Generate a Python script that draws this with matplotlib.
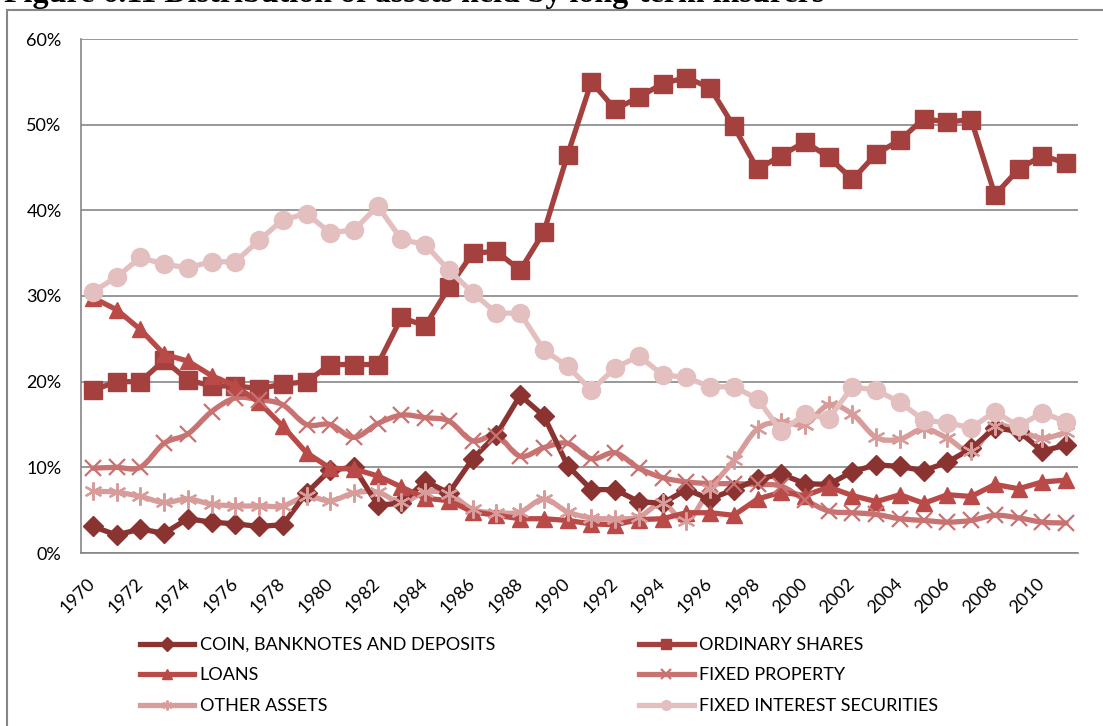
import matplotlib
matplotlib.use("Agg")
import matplotlib.pyplot as plt
from matplotlib.path import Path
from matplotlib.patches import PathPatch, Rectangle
from matplotlib.lines import Line2D
import numpy as np

plt.rcParams['font.family'] = ['Lato', 'DejaVu Sans']

years = list(range(1970, 2012))

coin = [3.1, 2.1, 2.8, 2.3, 4.0, 3.6, 3.4, 3.1, 3.3, 7.0, 9.7, 10.0, 5.6, 5.8,
        8.4, 7.0, 11.0, 13.8, 18.4, 16.0, 10.2, 7.4, 7.4, 6.0, 5.8, 7.4,
        6.3, 7.4, 8.6, 9.2, 8.1, 8.0, 9.5, 10.3, 10.1, 9.6, 10.6, 12.2,
        14.6, 14.2, 11.9, 12.6]
shares = [19.0, 20.0, 20.0, 22.5, 20.2, 19.5, 19.5, 19.2, 19.7, 20.0, 22.0,
          22.0, 22.0, 27.5, 26.5, 31.0, 35.0, 35.2, 33.0, 37.5, 46.5, 55.0,
          51.8, 53.2, 54.8, 55.5, 54.3, 49.8, 44.8, 46.4, 48.0, 46.2, 43.6,
          46.6, 48.2, 50.7, 50.3, 50.6, 41.8, 44.8, 46.4, 45.5]
loans = [29.8, 28.4, 26.1, 23.2, 22.4, 20.7, 19.5, 17.6, 14.8, 11.7, 9.9,
         9.8, 9.0, 7.7, 6.4, 6.1, 4.8, 4.4, 4.0, 4.0, 3.8, 3.4, 3.3, 3.9,
         4.0, 4.7, 4.7, 4.4, 6.3, 7.1, 6.7, 7.7, 6.7, 6.0, 6.8, 5.8, 6.8,
         6.6, 8.0, 7.5, 8.3, 8.5]
fixed_property = [9.9, 10.0, 10.0, 12.8, 13.9, 16.5, 18.1, 17.9, 17.3, 15.0,
                  15.0, 13.5, 15.1, 16.1, 15.8, 15.4, 13.1, 13.7, 11.3, 12.3,
                  12.8, 11.0, 11.7, 9.9, 8.8, 8.3, 8.1, 8.1, 8.0, 7.8, 6.2,
                  4.9, 4.7, 4.5, 4.0, 3.8, 3.6, 3.8, 4.4, 4.1, 3.6, 3.5]
other_assets = [7.2, 7.1, 6.6, 5.9, 6.3, 5.7, 5.5, 5.5, 5.5, 6.6, 6.1, 7.0,
                7.1, 5.9, 7.1, 6.9, 5.1, 4.7, 4.8, 6.3, 4.8, 4.1, 4.0, 4.2,
                5.8, 3.7, 7.5, 10.8, 14.5, 15.3, 15.0, 17.3, 16.2, 13.5, 13.3,
                14.5, 13.4, 11.9, 14.8, 14.3, 13.4, 14.1]
fixed_interest = [30.5, 32.2, 34.5, 33.7, 33.3, 34.0, 34.0, 36.5, 38.9, 39.6,
                  37.4, 37.7, 40.5, 36.6, 36.0, 33.0, 30.4, 28.0, 28.0, 23.7,
                  21.8, 19.0, 21.6, 23.0, 20.8, 20.5, 19.4, 19.4, 18.0, 14.2,
                  16.2, 15.7, 19.4, 19.0, 17.6, 15.5, 15.2, 14.6, 16.5, 14.8,
                  16.4, 15.3]

labels = ["COIN, BANKNOTES AND DEPOSITS", "ORDINARY SHARES", "LOANS",
          "FIXED PROPERTY", "OTHER ASSETS", "FIXED INTEREST SECURITIES"]
series = [coin, shares, loans, fixed_property, other_assets, fixed_interest]
colors = ['#8B3331', '#A4403E', '#B94A47', '#C87271', '#D89C9B', '#E4BFBF']
markers = ['D', 's', '^', 'x', (6, 2, 0), 'o']
msizes = [10, 13, 12, 12, 13, 13]
smooth = [False, False, False, True, True, False]

W, H = 1103, 726
fig = plt.figure(figsize=(W / 100, H / 100), dpi=100)
ax = fig.add_axes([81 / W, 1 - 553 / H, (1078 - 81) / W, (553 - 39) / H])


def smooth_path(x, y):
    # catmull-rom -> bezier, like the excel "smoothed line"
    pts = np.column_stack([x, y]).astype(float)
    verts = [pts[0]]
    codes = [Path.MOVETO]
    n = len(pts)
    for i in range(n - 1):
        p0 = pts[i - 1] if i > 0 else pts[i]
        p1 = pts[i]
        p2 = pts[i + 1]
        p3 = pts[i + 2] if i + 2 < n else pts[i + 1]
        c1 = p1 + (p2 - p0) / 6.0
        c2 = p2 - (p3 - p1) / 6.0
        verts += [c1, c2, p2]
        codes += [Path.CURVE4] * 3
    return Path(verts, codes)


handles = []
for vals, lab, c, m, ms, sm in zip(series, labels, colors, markers, msizes, smooth):
    mew = 1.6 if m in ('x', (6, 2, 0)) else 1
    if sm:
        ax.add_patch(PathPatch(smooth_path(years, vals), fill=False, edgecolor=c,
                               lw=3.8, capstyle='round', joinstyle='round'))
        ax.plot(years, vals, ls='none', marker=m, ms=ms, color=c, mew=mew)
    else:
        ax.plot(years, vals, color=c, lw=3.8, marker=m, ms=ms, mew=mew,
                solid_joinstyle='round')
    handles.append(Line2D([], [], color=c, lw=3.8, marker=m, ms=7, mew=mew))

ax.set_xlim(1969.5, 2011.5)
ax.set_ylim(0, 60)
ax.set_yticks(range(0, 61, 10))
ax.set_yticklabels([f"{v}%" for v in range(0, 61, 10)], fontsize=13)
ax.set_xticks(range(1970, 2011, 2))
ax.set_xticklabels([str(y) for y in range(1970, 2011, 2)], fontsize=13,
                   rotation=45, ha='right', va='center', rotation_mode='anchor')
ax.tick_params(axis='both', length=0)
ax.tick_params(axis='y', pad=14)
ax.tick_params(axis='x', pad=20)
ax.grid(axis='y', color='#868686', lw=1.2)
ax.set_axisbelow(True)
for s in ['top', 'right']:
    ax.spines[s].set_visible(False)
for s in ['left', 'bottom']:
    ax.spines[s].set_color('#868686')
    ax.spines[s].set_linewidth(1.2)

order = [0, 2, 4, 1, 3, 5]
fig.legend([handles[i] for i in order], [labels[i] for i in order],
           ncol=2, frameon=False, fontsize=13, loc='upper left',
           bbox_to_anchor=(140 / W, 1 - 637 / H), borderpad=0, borderaxespad=0,
           handlelength=3.0, handletextpad=0.3, columnspacing=8.0,
           labelspacing=0.8)

# outer chart frame, partly cut off by the page crop
fig.add_artist(Rectangle((7 / W, -0.1), 1.2, 1.1 - 10 / H, transform=fig.transFigure,
                         fill=False, edgecolor='#868686', lw=1.5, clip_on=False))

fig.text(4 / W, 1 - 2 / H, "Figure 6.11 Distribution of assets held by long-term insurers",
         family='Liberation Serif', fontweight='bold', fontsize=23, va='baseline')

fig.savefig("out.png", dpi=100)
